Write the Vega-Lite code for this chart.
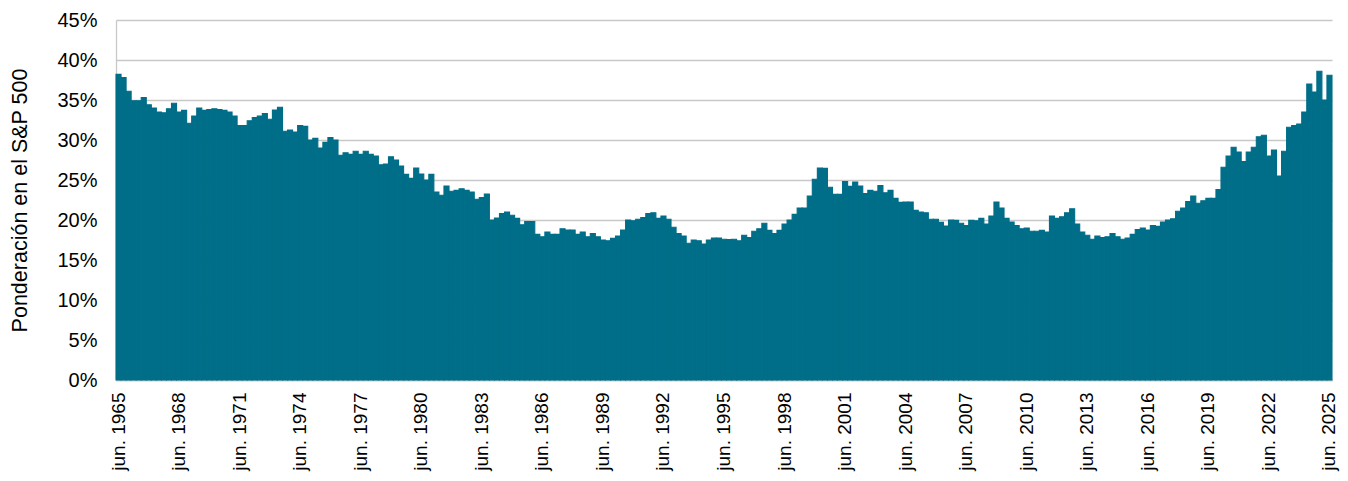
{
  "$schema": "https://vega.github.io/schema/vega-lite/v6.json",
  "width": 1216,
  "height": 360,
  "autosize": "none",
  "padding": {"left": 116, "top": 20, "right": 16, "bottom": 101},
  "background": "white",
  "config": {
    "view": {"stroke": null},
    "font": "Liberation Sans"
  },
  "data": {
    "values": [
      {"d":"1965-06","v":38.2},{"d":"1965-09","v":37.8},{"d":"1965-12","v":36.1},
      {"d":"1966-03","v":34.9},{"d":"1966-06","v":34.9},{"d":"1966-09","v":35.3},{"d":"1966-12","v":34.4},
      {"d":"1967-03","v":34.0},{"d":"1967-06","v":33.5},{"d":"1967-09","v":33.4},{"d":"1967-12","v":33.9},
      {"d":"1968-03","v":34.6},{"d":"1968-06","v":33.5},{"d":"1968-09","v":33.7},{"d":"1968-12","v":32.1},
      {"d":"1969-03","v":33.0},{"d":"1969-06","v":34.0},{"d":"1969-09","v":33.7},{"d":"1969-12","v":33.8},
      {"d":"1970-03","v":33.9},{"d":"1970-06","v":33.8},{"d":"1970-09","v":33.7},{"d":"1970-12","v":33.5},
      {"d":"1971-03","v":33.0},{"d":"1971-06","v":31.8},{"d":"1971-09","v":31.8},{"d":"1971-12","v":32.4},
      {"d":"1972-03","v":32.8},{"d":"1972-06","v":33.0},{"d":"1972-09","v":33.3},{"d":"1972-12","v":32.6},
      {"d":"1973-03","v":33.75},{"d":"1973-06","v":34.1},{"d":"1973-09","v":31.1},{"d":"1973-12","v":31.25},
      {"d":"1974-03","v":31.0},{"d":"1974-06","v":31.8},{"d":"1974-09","v":31.7},{"d":"1974-12","v":30.0},
      {"d":"1975-03","v":30.2},{"d":"1975-06","v":29.0},{"d":"1975-09","v":29.7},{"d":"1975-12","v":30.3},
      {"d":"1976-03","v":30.0},{"d":"1976-06","v":28.1},{"d":"1976-09","v":28.4},{"d":"1976-12","v":28.2},
      {"d":"1977-03","v":28.6},{"d":"1977-06","v":28.2},{"d":"1977-09","v":28.6},{"d":"1977-12","v":28.2},
      {"d":"1978-03","v":28.0},{"d":"1978-06","v":26.9},{"d":"1978-09","v":27.0},{"d":"1978-12","v":27.9},
      {"d":"1979-03","v":27.5},{"d":"1979-06","v":26.75},{"d":"1979-09","v":25.7},{"d":"1979-12","v":25.2},
      {"d":"1980-03","v":26.5},{"d":"1980-06","v":25.75},{"d":"1980-09","v":25.0},{"d":"1980-12","v":25.7},
      {"d":"1981-03","v":23.5},{"d":"1981-06","v":23.1},{"d":"1981-09","v":24.25},{"d":"1981-12","v":23.6},
      {"d":"1982-03","v":23.7},{"d":"1982-06","v":23.9},{"d":"1982-09","v":23.7},{"d":"1982-12","v":23.5},
      {"d":"1983-03","v":22.6},{"d":"1983-06","v":22.8},{"d":"1983-09","v":23.25},{"d":"1983-12","v":20.0},
      {"d":"1984-03","v":20.25},{"d":"1984-06","v":20.8},{"d":"1984-09","v":21.0},{"d":"1984-12","v":20.6},
      {"d":"1985-03","v":20.2},{"d":"1985-06","v":19.4},{"d":"1985-09","v":19.8},{"d":"1985-12","v":19.8},
      {"d":"1986-03","v":18.2},{"d":"1986-06","v":17.9},{"d":"1986-09","v":18.5},{"d":"1986-12","v":18.2},
      {"d":"1987-03","v":18.2},{"d":"1987-06","v":18.9},{"d":"1987-09","v":18.75},{"d":"1987-12","v":18.75},
      {"d":"1988-03","v":18.2},{"d":"1988-06","v":18.5},{"d":"1988-09","v":17.9},{"d":"1988-12","v":18.3},
      {"d":"1989-03","v":17.9},{"d":"1989-06","v":17.5},{"d":"1989-09","v":17.4},{"d":"1989-12","v":17.7},
      {"d":"1990-03","v":18.0},{"d":"1990-06","v":18.75},{"d":"1990-09","v":20.0},{"d":"1990-12","v":19.9},
      {"d":"1991-03","v":20.1},{"d":"1991-06","v":20.3},{"d":"1991-09","v":20.8},{"d":"1991-12","v":20.9},
      {"d":"1992-03","v":20.2},{"d":"1992-06","v":20.5},{"d":"1992-09","v":20.1},{"d":"1992-12","v":19.1},
      {"d":"1993-03","v":18.3},{"d":"1993-06","v":18.0},{"d":"1993-09","v":17.1},{"d":"1993-12","v":17.5},
      {"d":"1994-03","v":17.4},{"d":"1994-06","v":17.0},{"d":"1994-09","v":17.5},{"d":"1994-12","v":17.75},
      {"d":"1995-03","v":17.75},{"d":"1995-06","v":17.6},{"d":"1995-09","v":17.55},{"d":"1995-12","v":17.6},
      {"d":"1996-03","v":17.4},{"d":"1996-06","v":18.1},{"d":"1996-09","v":17.8},{"d":"1996-12","v":18.6},
      {"d":"1997-03","v":18.9},{"d":"1997-06","v":19.6},{"d":"1997-09","v":18.7},{"d":"1997-12","v":18.3},
      {"d":"1998-03","v":18.7},{"d":"1998-06","v":19.5},{"d":"1998-09","v":20.0},{"d":"1998-12","v":20.7},
      {"d":"1999-03","v":21.5},{"d":"1999-06","v":21.5},{"d":"1999-09","v":23.0},{"d":"1999-12","v":25.1},
      {"d":"2000-03","v":26.5},{"d":"2000-06","v":26.45},{"d":"2000-09","v":24.1},{"d":"2000-12","v":23.2},
      {"d":"2001-03","v":23.2},{"d":"2001-06","v":24.8},{"d":"2001-09","v":24.2},{"d":"2001-12","v":24.75},
      {"d":"2002-03","v":24.25},{"d":"2002-06","v":23.3},{"d":"2002-09","v":23.7},{"d":"2002-12","v":23.6},
      {"d":"2003-03","v":24.3},{"d":"2003-06","v":23.4},{"d":"2003-09","v":23.7},{"d":"2003-12","v":22.7},
      {"d":"2004-03","v":22.2},{"d":"2004-06","v":22.25},{"d":"2004-09","v":22.25},{"d":"2004-12","v":21.2},
      {"d":"2005-03","v":21.0},{"d":"2005-06","v":20.9},{"d":"2005-09","v":20.1},{"d":"2005-12","v":20.1},
      {"d":"2006-03","v":19.7},{"d":"2006-06","v":19.25},{"d":"2006-09","v":20.0},{"d":"2006-12","v":19.95},
      {"d":"2007-03","v":19.6},{"d":"2007-06","v":19.3},{"d":"2007-09","v":19.95},{"d":"2007-12","v":19.9},
      {"d":"2008-03","v":20.2},{"d":"2008-06","v":19.5},{"d":"2008-09","v":20.5},{"d":"2008-12","v":22.25},
      {"d":"2009-03","v":21.5},{"d":"2009-06","v":20.2},{"d":"2009-09","v":19.75},{"d":"2009-12","v":19.3},
      {"d":"2010-03","v":18.9},{"d":"2010-06","v":19.0},{"d":"2010-09","v":18.6},{"d":"2010-12","v":18.6},
      {"d":"2011-03","v":18.7},{"d":"2011-06","v":18.5},{"d":"2011-09","v":20.5},{"d":"2011-12","v":20.2},
      {"d":"2012-03","v":20.4},{"d":"2012-06","v":20.9},{"d":"2012-09","v":21.4},{"d":"2012-12","v":19.5},
      {"d":"2013-03","v":18.5},{"d":"2013-06","v":18.1},{"d":"2013-09","v":17.6},{"d":"2013-12","v":18.0},
      {"d":"2014-03","v":17.8},{"d":"2014-06","v":17.9},{"d":"2014-09","v":18.3},{"d":"2014-12","v":17.9},
      {"d":"2015-03","v":17.6},{"d":"2015-06","v":17.75},{"d":"2015-09","v":18.2},{"d":"2015-12","v":18.8},
      {"d":"2016-03","v":19.0},{"d":"2016-06","v":18.75},{"d":"2016-09","v":19.3},{"d":"2016-12","v":19.2},
      {"d":"2017-03","v":19.75},{"d":"2017-06","v":20.0},{"d":"2017-09","v":20.15},{"d":"2017-12","v":21.1},
      {"d":"2018-03","v":21.5},{"d":"2018-06","v":22.3},{"d":"2018-09","v":23.0},{"d":"2018-12","v":22.1},
      {"d":"2019-03","v":22.4},{"d":"2019-06","v":22.7},{"d":"2019-09","v":22.7},{"d":"2019-12","v":23.8},
      {"d":"2020-03","v":26.6},{"d":"2020-06","v":28.0},{"d":"2020-09","v":29.1},{"d":"2020-12","v":28.5},
      {"d":"2021-03","v":27.3},{"d":"2021-06","v":28.5},{"d":"2021-09","v":29.1},{"d":"2021-12","v":30.4},
      {"d":"2022-03","v":30.6},{"d":"2022-06","v":28.0},{"d":"2022-09","v":28.75},{"d":"2022-12","v":25.5},
      {"d":"2023-03","v":28.6},{"d":"2023-06","v":31.6},{"d":"2023-09","v":31.8},{"d":"2023-12","v":32.0},
      {"d":"2024-03","v":33.5},{"d":"2024-06","v":37.0},{"d":"2024-09","v":36.0},{"d":"2024-12","v":38.6},
      {"d":"2025-03","v":35.0},{"d":"2025-06","v":38.1}
    ]
  },
  "mark": {"type": "bar", "color": "#006E88", "stroke": "#006E88", "strokeWidth": 1.1},
  "encoding": {
    "x": {
      "field": "d",
      "type": "ordinal",
      "sort": null,
      "scale": {"paddingInner": 0, "paddingOuter": 0},
      "axis": {
        "title": null,
        "values": ["1965-06","1968-06","1971-06","1974-06","1977-06","1980-06","1983-06","1986-06","1989-06","1992-06","1995-06","1998-06","2001-06","2004-06","2007-06","2010-06","2013-06","2016-06","2019-06","2022-06","2025-06"],
        "labelExpr": "'jun. ' + slice(datum.value, 0, 4)",
        "labelAngle": -90,
        "labelFontSize": 19,
        "labelColor": "#000000",
        "labelPadding": 12,
        "ticks": false,
        "domainColor": "#c8c8c8",
        "domainWidth": 1.3
      }
    },
    "y": {
      "field": "v",
      "type": "quantitative",
      "scale": {"domain": [0, 45], "nice": false},
      "axis": {
        "title": "Ponderación en el S&P 500",
        "titleFontSize": 21.5,
        "titleFontWeight": "normal",
        "titleColor": "#000000",
        "titlePadding": 25,
        "values": [0, 5, 10, 15, 20, 25, 30, 35, 40, 45],
        "labelExpr": "datum.value + '%'",
        "labelFontSize": 20,
        "labelColor": "#000000",
        "labelPadding": 19,
        "ticks": false,
        "grid": true,
        "gridColor": "#c8c8c8",
        "gridWidth": 1.3,
        "domainColor": "#c8c8c8",
        "domainWidth": 1.3
      }
    }
  }
}
